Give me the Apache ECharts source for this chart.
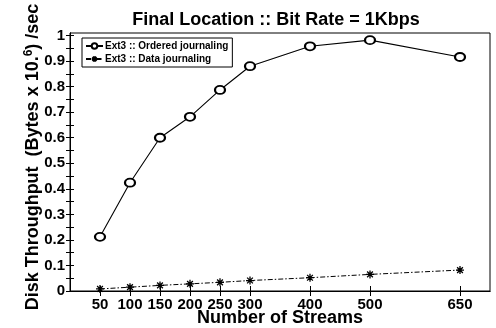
<!DOCTYPE html>
<html>
<head>
<meta charset="utf-8">
<script src="https://cdn.jsdelivr.net/npm/echarts@6/dist/echarts.min.js"></script>
<style>
  html, body { margin: 0; padding: 0; background: #fff; }
  #chart { width: 496px; height: 328px; }
</style>
</head>
<body>
<div id="chart"></div>
<script>
// 数据
var streams = [50, 100, 150, 200, 250, 300, 400, 500, 650];
var orderedJournaling = [0.212, 0.424, 0.6, 0.682, 0.787, 0.88, 0.958, 0.982, 0.916];
var dataJournaling = [0.008, 0.015, 0.022, 0.028, 0.034, 0.041, 0.052, 0.065, 0.082];
var yTicks = [0, 0.1, 0.2, 0.3, 0.4, 0.5, 0.6, 0.7, 0.8, 0.9, 1];
var yMinorTicks = [0, 0.05, 0.1, 0.15, 0.2, 0.25, 0.3, 0.35, 0.4, 0.45, 0.5, 0.55, 0.6, 0.65, 0.7, 0.75, 0.8, 0.85, 0.9, 0.95, 1];

var font = 'Liberation Sans, Arial, sans-serif';
var starPath = 'path://M0,-5L0,5M-5,0L5,0M-3.6,-3.6L3.6,3.6M-3.6,3.6L3.6,-3.6';

function pairs(ys) {
    return streams.map(function (x, i) { return [x, ys[i]]; });
}

var myChart = echarts.init(document.getElementById('chart'));
var option = {
    animation: false,
    textStyle: { fontFamily: font },
    title: {
        text: 'Final Location :: Bit Rate = 1Kbps',
        left: 271, top: 6, textAlign: 'center',
        textStyle: { fontSize: 18, fontWeight: 'bold', color: '#000', fontFamily: font }
    },
    grid: {
        left: 70, right: 6, top: 33, bottom: 37,
        outerBoundsMode: 'none', containLabel: false,
        show: true, borderColor: '#000', borderWidth: 1
    },
    legend: {
        left: 82, top: 38, orient: 'vertical',
        itemWidth: 17, itemHeight: 7, itemGap: 3,
        padding: [3, 4, 3, 3],
        borderColor: '#000', borderWidth: 1, backgroundColor: '#fff',
        textStyle: { fontSize: 10, fontWeight: 'bold', color: '#000', fontFamily: font, padding: [0, 0, 0, -3] }
    },
    xAxis: [{
        type: 'value', min: 0, max: 700,
        name: 'Number of Streams', nameLocation: 'middle', nameGap: 18, nameMoveOverlap: false,
        nameTextStyle: { fontSize: 18, fontWeight: 'bold', color: '#000', fontFamily: font, lineHeight: 18 },
        axisLine: { lineStyle: { color: '#000' } },
        axisTick: { inside: true, length: 5, customValues: streams, lineStyle: { color: '#000' } },
        axisLabel: { customValues: streams, margin: 6, fontSize: 15, fontWeight: 'bold', color: '#000', fontFamily: font },
        splitLine: { show: false }
    }, {
        type: 'value', min: 0, max: 700, position: 'top',
        axisLine: { lineStyle: { color: '#000' } },
        axisTick: { inside: true, length: 5, customValues: streams, lineStyle: { color: '#000' } },
        axisLabel: { show: false },
        splitLine: { show: false }
    }],
    yAxis: [{
        type: 'value', min: 0, max: 1.01,
        name: '{a|Disk Throughput  (Bytes x 10.}{s|6}{a|) /sec}',
        nameLocation: 'middle', nameGap: 26, nameMoveOverlap: false,
        nameTextStyle: {
            padding: [0, 0, 0, 10],
            rich: {
                a: { fontSize: 18, fontWeight: 'bold', color: '#000', fontFamily: font },
                s: { fontSize: 12, fontWeight: 'bold', color: '#000', fontFamily: font, verticalAlign: 'top', padding: [0, 0, 9, 0] }
            }
        },
        axisLine: { lineStyle: { color: '#000' } },
        axisTick: { inside: true, length: 4, customValues: yMinorTicks, lineStyle: { color: '#000' } },
        axisLabel: { customValues: yTicks, margin: 5, fontSize: 15, fontWeight: 'bold', color: '#000', fontFamily: font },
        splitLine: { show: false }
    }, {
        type: 'value', min: 0, max: 1.01, position: 'right',
        axisLine: { lineStyle: { color: '#000' } },
        axisTick: { inside: true, length: 4, customValues: yMinorTicks, lineStyle: { color: '#000' } },
        axisLabel: { show: false },
        splitLine: { show: false }
    }],
    series: [{
        name: 'Ext3 :: Ordered journaling',
        type: 'line',
        data: pairs(orderedJournaling),
        symbol: 'emptyCircle', symbolSize: [10, 8],
        lineStyle: { color: '#000', width: 1.1 },
        itemStyle: { color: '#000', borderColor: '#000', borderWidth: 1 }
    }, {
        name: 'Ext3 :: Data journaling',
        type: 'line',
        data: pairs(dataJournaling),
        symbol: starPath, symbolSize: 8,
        lineStyle: { color: '#000', width: 1, type: [5, 2, 1.5, 2] },
        itemStyle: { color: '#000', borderColor: '#000', borderWidth: 1.3 }
    }]
};
myChart.setOption(option);
</script>
</body>
</html>
